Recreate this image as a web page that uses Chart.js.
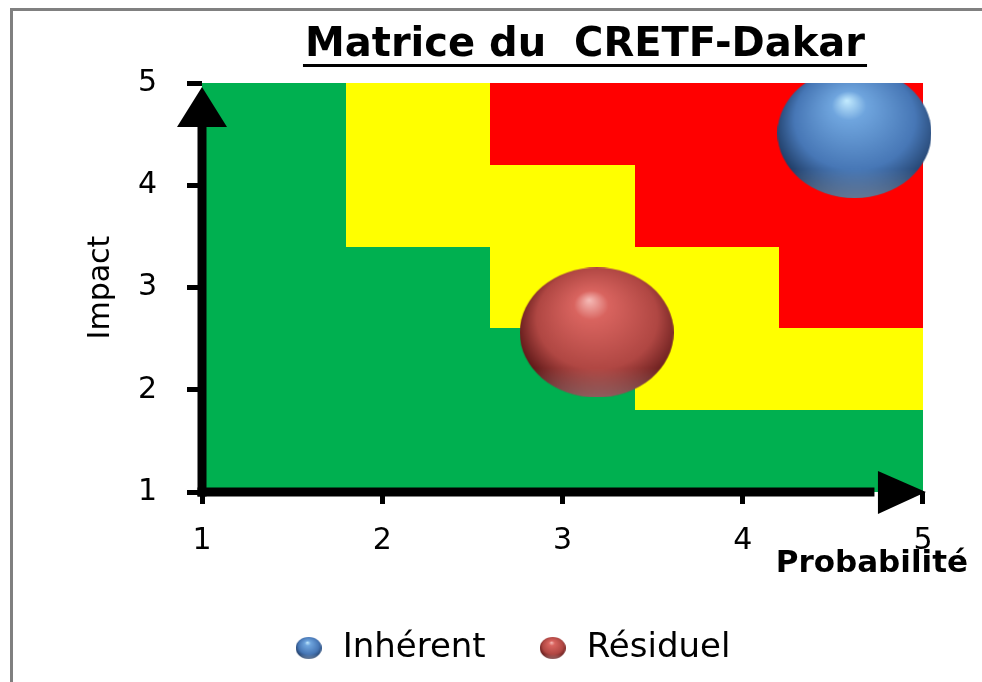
<!DOCTYPE html>
<html lang="fr">
<head>
<meta charset="utf-8">
<title>Matrice du CRETF-Dakar</title>
<script src="https://cdn.jsdelivr.net/npm/chart.js@4.4.1/dist/chart.umd.min.js"></script>
<style>
  html, body { margin: 0; padding: 0; background: #fff; }
  canvas { display: block; }
</style>
</head>
<body>
<canvas id="matrice" width="982" height="682"></canvas>
<script>
// Risques (probabilite / impact / taille de la bulle)
const series = ['Inhérent', 'Résiduel'];
const probabilite = [4.62, 3.19];
const impact = [4.51, 2.56];
const taille = [77, 77];
const graduations = [1, 2, 3, 4, 5];

// Zones de la matrice : colonnes de probabilite et seuils d'impact
const bornesProba = [1, 1.8, 2.6, 3.4, 4.2, 5];
const seuilJaune = [5, 3.4, 2.6, 1.8, 1.8];
const seuilRouge = [5, 5, 4.2, 3.4, 2.6];

const VERT = '#00b050';
const JAUNE = '#ffff00';
const ROUGE = '#ff0000';
const palettes = [
    ['#c4ecff', '#6fa5de', '#4777b6', '#1e3a62'],
    ['#f6bcb8', '#d9645f', '#b04743', '#5a1616']
];
const police = 'DejaVu Sans';

// bulle "3D" dessinee dans un petit canvas, utilisee comme pointStyle
const cache = {};
function sphere(pal, rx) {
    const key = pal[0] + rx;
    if (cache[key]) return cache[key];
    const ry = Math.round(rx * 0.84);
    const c = document.createElement('canvas');
    c.width = rx * 2;
    c.height = ry * 2;
    const g = c.getContext('2d');
    g.translate(rx, ry);
    g.scale(rx, ry);
    g.beginPath();
    g.arc(0, 0, 1, 0, Math.PI * 2);
    g.clip();
    let grad = g.createRadialGradient(-0.1, -0.5, 0, 0.05, -0.1, 1.12);
    grad.addColorStop(0, pal[0]);
    grad.addColorStop(0.2, pal[1]);
    grad.addColorStop(0.7, pal[2]);
    grad.addColorStop(1, pal[3]);
    g.fillStyle = grad;
    g.fillRect(-1, -1, 2, 2);
    // reflet en bas
    let reflet = g.createLinearGradient(0, 0.55, 0, 1);
    reflet.addColorStop(0, 'rgba(255,255,255,0)');
    reflet.addColorStop(1, 'rgba(255,255,255,0.3)');
    g.fillStyle = reflet;
    g.fillRect(-1, 0.55, 2, 0.45);
    cache[key] = c;
    return c;
}

//Cadre gris
const cadre = {
    id: 'cadre',
    beforeDraw(chart) {
        const ctx = chart.ctx;
        ctx.save();
        ctx.fillStyle = '#808080';
        ctx.fillRect(10, 8, chart.width - 10, 3);
        ctx.fillRect(10, 8, 3, chart.height - 8);
        ctx.restore();
    }
};

//Zones colorees + axes avec fleches
const zones = {
    id: 'zones',
    beforeDatasetsDraw(chart) {
        const ctx = chart.ctx;
        const x = chart.scales.x;
        const y = chart.scales.y;
        ctx.save();
        for (let i = 0; i < seuilJaune.length; i++) {
            const x0 = Math.round(x.getPixelForValue(bornesProba[i]));
            const x1 = Math.round(x.getPixelForValue(bornesProba[i + 1]));
            const bandes = [[1, seuilJaune[i], VERT], [seuilJaune[i], seuilRouge[i], JAUNE], [seuilRouge[i], 5, ROUGE]];
            bandes.forEach(function (b) {
                if (b[1] <= b[0]) return;
                const ya = Math.round(y.getPixelForValue(b[0]));
                const yb = Math.round(y.getPixelForValue(b[1]));
                ctx.fillStyle = b[2];
                ctx.fillRect(x0, yb, x1 - x0, ya - yb);
            });
        }
        const gauche = x.getPixelForValue(1);
        const droite = x.getPixelForValue(5);
        const bas = y.getPixelForValue(1);
        const haut = y.getPixelForValue(5);
        ctx.fillStyle = '#000';
        ctx.fillRect(gauche - 4.5, haut + 42, 9, bas - haut - 37.5);
        ctx.beginPath();
        ctx.moveTo(gauche, haut + 4);
        ctx.lineTo(gauche - 25, haut + 44);
        ctx.lineTo(gauche + 25, haut + 44);
        ctx.closePath();
        ctx.fill();
        ctx.fillRect(gauche - 4.5, bas - 4.5, droite - 44 - gauche, 9);
        ctx.beginPath();
        ctx.moveTo(droite + 3, bas);
        ctx.lineTo(droite - 45, bas - 21);
        ctx.lineTo(droite - 45, bas + 22);
        ctx.closePath();
        ctx.fill();
        ctx.restore();
    },
    // bulles coupees au bord de la zone de tracé
    beforeDatasetDraw(chart) {
        const a = chart.chartArea;
        chart.ctx.save();
        chart.ctx.beginPath();
        chart.ctx.rect(a.left, a.top, a.right - a.left, a.bottom - a.top);
        chart.ctx.clip();
    },
    afterDatasetDraw(chart) {
        chart.ctx.restore();
    }
};

//Titre souligne
const souligne = {
    id: 'souligne',
    afterDraw(chart) {
        const t = chart.titleBlock;
        const ctx = chart.ctx;
        ctx.save();
        ctx.font = 'bold 40px "' + police + '"';
        const w = ctx.measureText(t.options.text).width;
        const cx = (t.left + t.right) / 2;
        ctx.fillStyle = '#000';
        ctx.fillRect(cx - w / 2 - 2, t.top + 9 + 24 + 18, w + 4, 3);
        ctx.restore();
    }
};

new Chart(document.getElementById('matrice'), {
    type: 'bubble',
    data: {
        datasets: series.map(function (nom, i) {
            return {
                label: nom,
                data: [{x: probabilite[i], y: impact[i], r: taille[i]}],
                pointStyle: function (c) {
                    return sphere(palettes[i], c.raw ? c.raw.r : 13);
                },
                clip: 0
            };
        })
    },
    options: {
        responsive: false,
        animation: false,
        events: [],
        layout: {autoPadding: false, padding: {left: 54, right: 14, top: 13, bottom: 7}},
        plugins: {
            title: {
                display: true,
                text: 'Matrice du  CRETF-Dakar',
                fullSize: false,
                color: '#000',
                font: {family: police, size: 40, weight: 'bold', lineHeight: 1.2},
                padding: {top: 9, bottom: 13}
            },
            legend: {
                position: 'bottom',
                labels: {
                    usePointStyle: true,
                    padding: 50,
                    color: '#000',
                    font: {family: police, size: 34},
                    generateLabels: function (chart) {
                        const items = Chart.defaults.plugins.legend.labels.generateLabels(chart);
                        items.forEach(function (it, i) {
                            it.pointStyle = sphere(palettes[i], 13);
                        });
                        return items;
                    }
                }
            },
            tooltip: {enabled: false}
        },
        scales: {
            x: {
                type: 'linear',
                min: 1,
                max: 5.25,
                afterFit: function (s) { s.height = 89; },
                afterBuildTicks: function (s) { s.ticks = graduations.map(v => ({value: v})); },
                border: {display: false},
                grid: {drawOnChartArea: false, color: '#000', tickLength: 12, tickWidth: 5},
                ticks: {color: '#000', padding: 19, font: {family: police, size: 30}},
                title: {
                    display: true,
                    text: 'Probabilité',
                    align: 'end',
                    color: '#000',
                    font: {family: police, size: 31, weight: 'bold', lineHeight: 1},
                    padding: {top: 0, bottom: 2}
                }
            },
            y: {
                type: 'linear',
                min: 1,
                max: 5,
                afterFit: function (s) { s.width = 148; },
                afterBuildTicks: function (s) { s.ticks = graduations.map(v => ({value: v})); },
                border: {display: false},
                grid: {drawOnChartArea: false, color: '#000', tickLength: 15, tickWidth: 5},
                ticks: {color: '#000', padding: 30, font: {family: police, size: 30}},
                title: {
                    display: true,
                    text: 'Impact',
                    color: '#000',
                    font: {family: police, size: 30, lineHeight: 1.2},
                    padding: {top: 29, bottom: 0}
                }
            }
        }
    },
    plugins: [cadre, zones, souligne]
});
</script>
</body>
</html>
